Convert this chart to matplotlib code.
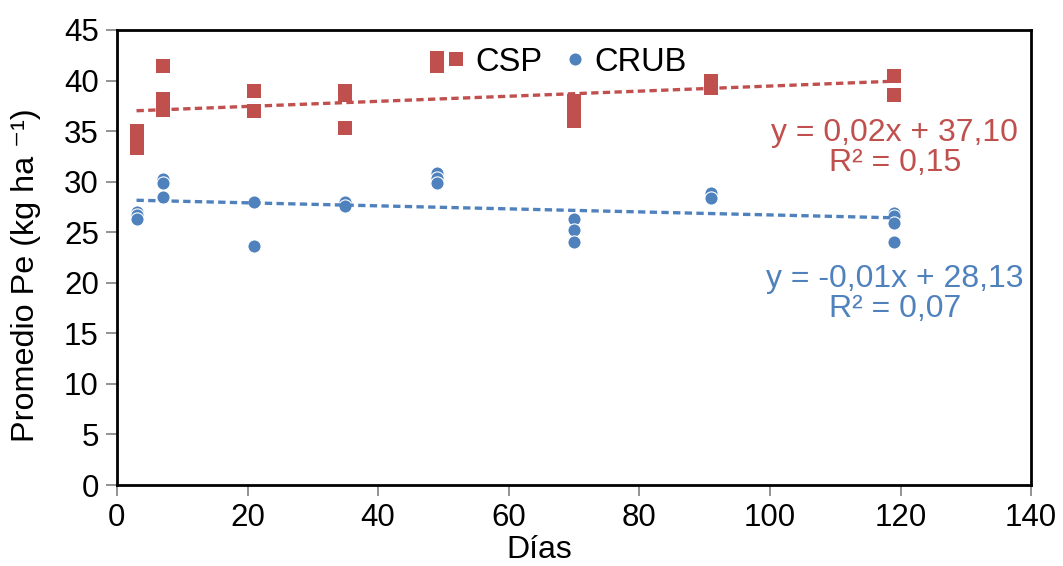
import numpy as np
import matplotlib
matplotlib.use("Agg")
import matplotlib.pyplot as plt

plt.rcParams['font.family'] = ['Liberation Sans', 'DejaVu Sans']

# CSP samples (days, Pe)
csp_dias = [3, 3, 3, 7, 7, 7, 7, 21, 21, 35, 35, 35, 49, 49, 70, 70, 70, 91, 91, 119, 119]
csp_pe = [33.3, 34.2, 35.0, 41.4, 38.2, 37.6, 37.1, 39.0, 37.0, 39.0, 38.6, 35.3,
          42.2, 41.4, 38.0, 37.0, 36.0, 40.0, 39.3, 40.5, 38.6]

# CRUB samples (days, Pe)
crub_dias = [3, 3, 3, 7, 7, 7, 21, 21, 35, 35, 49, 49, 49, 70, 70, 70, 91, 91,
             119, 119, 119, 119]
crub_pe = [27.0, 26.7, 26.3, 30.3, 29.9, 28.5, 28.0, 23.6, 28.0, 27.6, 30.9, 30.4, 29.9,
           26.3, 25.2, 24.0, 28.9, 28.4, 26.9, 26.6, 25.9, 24.0]

eq_csp = "y = 0,02x + 37,10\nR² = 0,15"
eq_crub = "y = -0,01x + 28,13\nR² = 0,07"

red = "#C0504D"
blue = "#4F81BD"

fig = plt.figure(figsize=(10.63, 5.66), dpi=100)
ax = fig.add_axes([0.110, 0.143, 0.860, 0.804])

ax.plot(csp_dias, csp_pe, 's', color=red, markersize=10, markeredgewidth=0,
        label="CSP", zorder=3)
ax.plot(crub_dias, crub_pe, 'o', color=blue, markersize=9.5, markeredgecolor='white',
        markeredgewidth=0.8, label="CRUB", zorder=3)

# linear trend lines over the data range
for xs, ys, c in [(csp_dias, csp_pe, red), (crub_dias, crub_pe, blue)]:
    xs = np.array(xs, dtype=float)
    m, b = np.polyfit(xs, ys, 1)
    xl = np.array([xs.min(), xs.max()])
    ax.plot(xl, m * xl + b, color=c, linewidth=2.4, dashes=(2.2, 1.3), zorder=4)

ax.text(0.851, 0.74, eq_csp, transform=ax.transAxes, color=red, fontsize=23,
        ha='center', va='center', linespacing=1.0)
ax.text(0.851, 0.42, eq_crub, transform=ax.transAxes, color=blue, fontsize=23,
        ha='center', va='center', linespacing=1.0)

ax.set_xlim(0, 140)
ax.set_ylim(0, 45)
ax.set_xticks(range(0, 141, 20))
ax.set_yticks(range(0, 46, 5))
ax.tick_params(axis='both', labelsize=22.5, direction='out', length=8, width=1.2,
               color='#808080', pad=5)
for s in ax.spines.values():
    s.set_linewidth(2)
    s.set_color('black')

ax.set_xlabel("Días", fontsize=23)
ax.set_ylabel("Promedio Pe (kg ha ⁻¹)", fontsize=23.3)
ax.xaxis.set_label_coords(0.4617, -0.11)
ax.yaxis.set_label_coords(-0.083, 0.4615)

ax.legend(loc='upper center', bbox_to_anchor=(0.488, 1.028), ncol=2, frameon=False,
          fontsize=23.5, numpoints=1, handletextpad=0.1, columnspacing=0.5,
          handlelength=1.0)

fig.savefig("out.png", dpi=100)
